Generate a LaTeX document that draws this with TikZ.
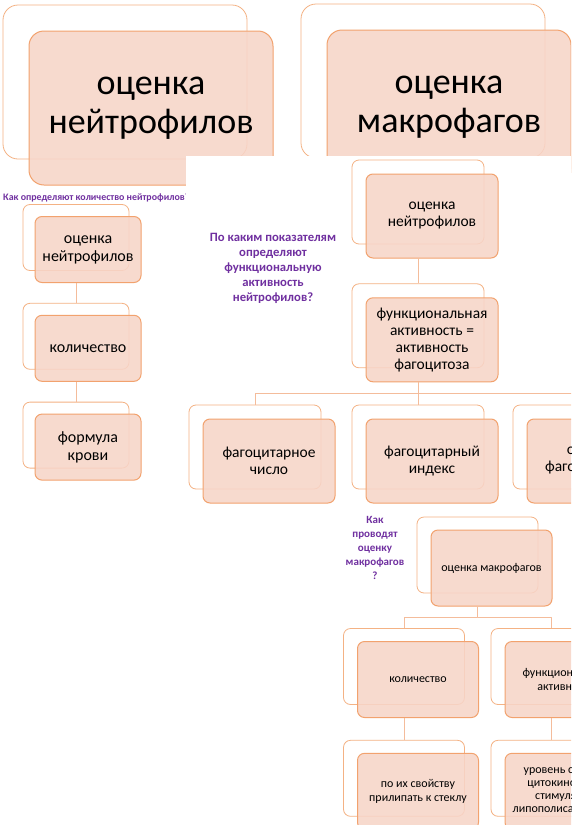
\documentclass[tikz,border=0pt]{standalone}
\usepackage{fontspec}
\setmainfont{Carlito}
\usetikzlibrary{positioning,calc}
\definecolor{cardfill}{RGB}{247,213,200}
\definecolor{cardline}{RGB}{242,162,110}
\definecolor{ghostline}{RGB}{244,178,132}
\definecolor{linkline}{RGB}{244,188,155}
\definecolor{askpurple}{RGB}{112,48,160}

\begin{document}
\begin{tikzpicture}[x=1pt,y=-1pt,line join=round]
  \tikzstyle{ghost}=[draw=ghostline,line width=0.8pt,fill=white,rounded corners=7pt,minimum width=132pt,minimum height=84pt,inner sep=0pt]
  \tikzstyle{card}=[draw=cardline,line width=1pt,fill=cardfill,fill opacity=0.88,text opacity=1,rounded corners=7pt,minimum width=132pt,minimum height=84pt,align=center,inner sep=2pt,font=\fontsize{15.5}{17}\selectfont]
  \tikzstyle{small}=[minimum width=106pt,minimum height=66pt,font=\fontsize{16}{18}\selectfont]
  \tikzstyle{tiny}=[minimum width=121pt,minimum height=76pt,font=\fontsize{12}{14}\selectfont]
  \tikzstyle{big}=[minimum width=244pt,minimum height=154pt,rounded corners=15pt,font=\fontsize{36}{39}\selectfont]
  \tikzstyle{link}=[draw=linkline,line width=0.9pt]
  \tikzstyle{ask}=[text=askpurple,align=center,inner sep=0pt,font=\bfseries\fontsize{12.7}{15}\selectfont]
  \useasboundingbox (0,0) rectangle (571,825);
  \clip (0,0) rectangle (571,825);
  \fill[white] (0,0) rectangle (571,825);
  % two big title slides
  \node[ghost,big] (topN) at (125,82) {};
  \node[card,big] (topNc) at ($(topN)+(26,26)$) {оценка\\нейтрофилов};
  \node[ghost,big] (topM) at (423,81) {};
  \node[card,big] (topMc) at ($(topM)+(26,26)$) {оценка\\макрофагов};
  % how the count is found
  \node[ask,anchor=west,font=\bfseries\fontsize{9.9}{12}\selectfont] (askN) at (3,198) {Как определяют количество нейтрофилов?};
  \node[ghost,small] (l1) at (76,237.5) {};
  \node[card,small] (l1c) at ($(l1)+(12,12)$) {оценка\\нейтрофилов};
  \node[ghost,small,below=32pt of l1] (l2) {};
  \node[card,small] (l2c) at ($(l2)+(12,12)$) {количество};
  \node[ghost,small,below=32pt of l2] (l3) {};
  \node[card,small] (l3c) at ($(l3)+(12,12)$) {формула\\крови};
  \draw[link] (l1c.south -| l1) -- (l2.north);
  \draw[link] (l2c.south -| l2) -- (l3.north);
  % functional activity slide
  \fill[white] (186,156) rectangle (571,825);
  \node[ask] (askF) at (273,268.5) {По каким показателям\\определяют\\функциональную\\активность\\нейтрофилов?};
  \node[ghost] (b1) at (418,202) {};
  \node[card] (b1c) at ($(b1)+(14,14)$) {оценка\\нейтрофилов};
  \node[ghost,below=39pt of b1] (b2) {};
  \node[card] (b2c) at ($(b2)+(14,14)$) {функциональная\\активность =\\активность\\фагоцитоза};
  \node[ghost] (c1) at (255,447) {};
  \node[card] (c1c) at ($(c1)+(14,14)$) {фагоцитарное\\число};
  \node[ghost] (c2) at (418,447) {};
  \node[card] (c2c) at ($(c2)+(14,14)$) {фагоцитарный\\индекс};
  \node[ghost] (c3) at (579,447) {};
  \node[card] (c3c) at ($(c3)+(14,14)$) {опсоно-\\фагоцитарный};
  \coordinate (busC) at (418,393);
  \draw[link] (b1c.south -| b1) -- (b2.north);
  \draw[link] (b2c.south -| b2) -- (busC) -| (c1.north);
  \draw[link] (busC) -- (c2.north);
  \draw[link] (busC) -| (c3.north);
  % macrophage slide
  \node[ask,font=\bfseries\fontsize{11}{14}\selectfont] (askM) at (375,548) {Как\\проводят\\оценку\\макрофагов\\?};
  \node[ghost,tiny] (d1) at (477.5,555) {};
  \node[card,tiny] (d1c) at ($(d1)+(14,13)$) {оценка макрофагов};
  \node[ghost,tiny] (e1) at (404,666.5) {};
  \node[card,tiny] (e1c) at ($(e1)+(14,13)$) {количество};
  \node[ghost,tiny] (e2) at (551.5,666.5) {};
  \node[card,tiny] (e2c) at ($(e2)+(14,13)$) {функциональная\\активность};
  \node[ghost,tiny,below=35pt of e1] (f1) {};
  \node[card,tiny] (f1c) at ($(f1)+(14,13)$) {по их свойству\\прилипать к стеклу};
  \node[ghost,tiny,below=35pt of e2] (f2) {};
  \node[card,tiny,font=\fontsize{12}{13}\selectfont] (f2c) at ($(f2)+(14,13)$) {уровень синтеза\\цитокинов при\\стимуляции\\липополисахаридом};
  \coordinate (busE) at (477.5,617);
  \draw[link] (d1c.south -| d1) -- (busE) -| (e1.north);
  \draw[link] (busE) -| (e2.north);
  \draw[link] (e1c.south -| e1) -- (f1.north);
  \draw[link] (e2c.south -| e2) -- (f2.north);
\end{tikzpicture}
\end{document}
